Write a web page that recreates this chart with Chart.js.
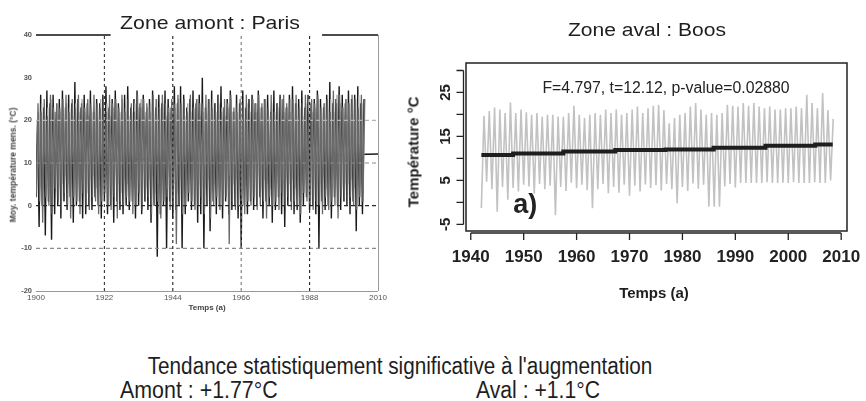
<!DOCTYPE html>
<html><head><meta charset="utf-8">
<script src="https://cdn.jsdelivr.net/npm/chart.js@4.4.1/dist/chart.umd.min.js"></script>
<style>
html,body{margin:0;padding:0;background:#fff;width:866px;height:401px;overflow:hidden;font-family:"Liberation Sans",Arial,sans-serif;}
.t{position:absolute;white-space:nowrap;color:#1e1e1e;line-height:1;}
#c1{position:absolute;left:0;top:0;}
#c2{position:absolute;left:400px;top:0;}
</style></head><body>
<canvas id="c1" width="400" height="320"></canvas>
<canvas id="c2" width="466" height="320"></canvas>
<div class="t" style="left:210px;top:22px;font-size:19px;transform:translate(-50%,-50%) scaleX(1.12);">Zone amont : Paris</div>
<div class="t" style="left:647px;top:30px;font-size:18px;transform:translate(-50%,-50%) scaleX(1.17);">Zone aval : Boos</div>
<div class="t" style="left:13px;top:165px;font-size:8.5px;font-weight:bold;color:#444;transform:translate(-50%,-50%) rotate(-90deg);">Moy. température mens. (°C)</div>
<div class="t" style="left:207px;top:308px;font-size:8px;font-weight:bold;color:#444;transform:translate(-50%,-50%);">Temps (a)</div>
<div class="t" style="left:413px;top:152px;font-size:15px;font-weight:bold;transform:translate(-50%,-50%) rotate(-90deg);">Température °C</div>
<div class="t" style="left:654px;top:292px;font-size:15px;font-weight:bold;transform:translate(-50%,-50%);">Temps (a)</div>
<div class="t" style="left:400px;top:366px;font-size:23px;transform:translate(-50%,-50%) scaleX(0.9);">Tendance statistiquement significative à l'augmentation</div>
<div class="t" style="left:120px;top:390px;font-size:23px;transform-origin:0 50%;transform:translate(0,-50%) scaleX(0.93);">Amont : +1.77°C</div>
<div class="t" style="left:476px;top:390px;font-size:23px;transform-origin:0 50%;transform:translate(0,-50%) scaleX(0.92);">Aval : +1.1°C</div>
<script>
// ---------- Zone amont : Paris (1900-2005), yearly winter troughs / summer peaks ----------
const parisStart = 1900;
const parisDarkPeak = [
 20,26,23,27,24,26,22,25,27,23,
 26,24,29,25,23,26,24,27,22,25,
 24,26,28,23,25,27,24,22,26,28,
 23,25,27,24,26,22,25,27,23,26,
 24,27,25,23,28,24,28,26,23,25,
 27,24,26,30,23,25,27,24,26,28,
 23,25,27,22,26,24,27,23,25,26,
 24,27,23,25,26,22,27,24,26,25,
 23,26,28,24,25,27,23,26,24,25,
 27,25,23,26,29,24,25,28,26,24,
 27,25,26,28,24,25];
const parisDarkTrough = [
 2,-5,0,-7,1,-8,-2,0,-3,1,
 -1,2,-4,0,1,-3,-2,0,-1,2,
 0,-3,1,-2,0,-4,1,-1,-2,0,
 -1,1,-3,0,-2,1,-1,-4,0,-12,
 -2,0,-10,1,-3,-1,0,-10,-2,1,
 -1,0,-4,-2,-10,0,-6,1,-2,0,
 -3,1,-2,-1,0,-3,-10,0,-2,1,
 -1,0,2,-3,1,0,-4,-1,2,-2,
 -5,0,1,-2,-1,-4,0,2,-1,0,
 -2,-10,1,-1,0,-3,2,0,-1,1,
 0,-2,1,-6,0,-2];
const parisGrayPeak = [
 24,22,25,21,26,23,24,22,25,26,
 22,25,23,26,24,22,25,23,26,24,
 23,25,22,26,24,25,23,26,22,25,
 24,22,26,23,25,24,22,26,25,23,
 26,24,22,25,23,26,24,25,22,26,
 23,25,24,22,26,25,23,24,26,22,
 25,24,26,23,22,25,24,26,23,25,
 22,26,24,25,23,26,22,24,25,26,
 24,22,25,26,23,24,26,22,25,24,
 26,23,24,25,22,27,24,26,23,25,
 24,26,25,23,26,25];
const parisGrayTrough = [
 3,1,-4,2,0,-2,4,1,-1,3,
 0,-3,2,1,-2,3,0,-1,2,1,
 -2,1,3,0,-1,2,-3,1,0,2,
 1,-2,0,3,-1,1,2,-2,0,1,
 -3,1,2,-1,0,-9,1,-2,0,3,
 1,-1,0,2,-2,1,-3,0,2,-1,
 0,2,-9,1,-1,0,2,-2,1,0,
 2,-1,0,1,-3,2,0,1,-1,3,
 0,2,-1,1,0,-2,3,1,0,-1,
 1,0,-2,2,-1,1,0,-3,2,1,
 1,2,0,-1,2,1];
const parisLightPeak = [
 22,24,21,23,25,22,24,23,21,24,
 23,21,24,22,25,23,21,24,22,23,
 25,22,24,21,23,24,22,25,23,21,
 22,24,23,25,21,23,24,22,25,23,
 24,21,23,22,24,25,23,21,24,22,
 23,25,21,24,22,23,25,22,24,23,
 21,23,25,22,24,21,23,24,22,25,
 24,22,23,25,21,24,22,23,25,22,
 23,25,22,24,23,21,24,25,22,23,
 25,22,24,23,25,22,26,24,23,25,
 24,23,25,26,24,25];
const parisLightTrough = [
 6,4,7,5,3,6,8,4,5,7,
 5,7,4,6,8,5,3,6,7,4,
 6,5,8,4,6,7,5,3,6,5,
 7,4,6,5,8,4,6,7,3,5,
 5,7,4,6,5,3,7,5,6,8,
 4,6,5,7,4,6,3,5,7,6,
 6,4,7,5,6,8,4,5,6,3,
 5,7,4,6,5,4,7,6,5,6,
 7,5,6,4,7,5,6,3,5,7,
 6,5,7,4,6,5,8,6,4,5,
 5,6,4,7,5,6];
const parisTrendX = [1900, 2010];
const parisTrendY = [10.3, 12.1];
const parisRefH = [20, 10, 0, -10];
const parisRefHColor = ['#b4b4b4', '#8a8a8a', '#2a2a2a', '#8a8a8a'];
const parisRefV = [1922, 1944, 1966, 1988];
const parisRefVColor = ['#333', '#222', '#777', '#222'];
const parisXTicks = [1900, 1922, 1944, 1966, 1988, 2010];
const parisYTicks = [40, 30, 20, 10, 0, -10, -20];

// ---------- Zone aval : Boos (1942-2008) ----------
const boosStart = 1942;
const boosPeak = [
 19.7,20.8,21.6,21.1,20.3,22.7,20.3,21.1,20.5,19.9,
 20.3,19.5,19.9,19.9,19.5,19.5,20.3,22.0,19.9,19.2,
 19.9,20.3,19.9,21.1,20.3,21.1,19.9,20.3,21.1,21.8,
 20.3,21.4,22.0,22.2,21.0,18.0,19.2,19.9,20.3,21.8,
 22.6,21.1,19.9,20.3,19.9,20.3,22.2,22.0,21.8,22.6,
 22.0,22.6,21.8,21.4,21.8,21.1,21.1,21.4,21.4,21.8,
 21.4,24.5,22.6,21.4,24.9,21.0,19.0];
const boosTrough = [
 -1.3,4.7,3.0,-2.1,3.5,0.6,3.3,2.5,4.0,3.6,
 2.0,4.2,3.0,3.8,-2.9,3.5,2.6,4.5,3.2,4.0,
 2.8,-1.3,3.0,4.2,2.1,3.5,2.2,4.0,1.5,3.8,
 2.5,4.1,3.3,3.9,2.7,4.2,3.0,-0.2,3.5,2.6,
 4.3,3.1,4.0,-1.0,-1.0,-1.0,3.6,4.2,3.4,4.4,
 4.4,4.4,4.4,4.4,4.6,4.4,4.4,4.5,4.4,4.6,
 4.4,4.4,4.4,4.6,4.4,4.4,5.0];
const boosTrendX = [1942, 1948, 1957.5, 1967.3, 1976.8, 1985.9, 1995.7, 2005.1, 2008.4];
const boosTrendY = [10.8, 11.1, 11.55, 11.9, 12.05, 12.45, 12.9, 13.15, 13.15];
const boosXTicks = [1940, 1950, 1960, 1970, 1980, 1990, 2000, 2010];
const boosYTickMarks = [-5, 0, 5, 10, 15, 20, 25, 30];
const boosYLabels = [-5, 5, 15, 25];
const boosStatText = 'F=4.797, t=12.12, p-value=0.02880';
const boosPanelLabel = 'a)';

// ---------- helpers ----------
Chart.defaults.font.family = '"Liberation Sans", Arial, sans-serif';
function zigzag(start, troughs, peaks, tOff, pOff) {
  const pts = [];
  for (let i = 0; i < peaks.length; i++) {
    pts.push({x: start + i + tOff, y: troughs[i]});
    pts.push({x: start + i + pOff, y: peaks[i]});
  }
  return pts;
}
function ln(data, color, width, order, extra) {
  return Object.assign({type: 'line', data, borderColor: color, borderWidth: width, order, pointRadius: 0, fill: false, tension: 0}, extra || {});
}
const baseOpts = {responsive: false, animation: false, events: [], plugins: {legend: {display: false}, tooltip: {enabled: false}}};

// ---------- left chart ----------
const parisAxes = {
  id: 'parisAxes',
  afterDatasetsDraw(chart) {
    const {ctx, chartArea: a, scales: {x, y}} = chart;
    ctx.save();
    ctx.strokeStyle = '#111'; ctx.lineWidth = 1.6;
    ctx.beginPath();
    ctx.moveTo(a.left, a.top); ctx.lineTo(x.getPixelForValue(1924), a.top);
    ctx.moveTo(x.getPixelForValue(1992), a.top); ctx.lineTo(a.right, a.top);
    ctx.stroke();
    ctx.strokeStyle = '#999'; ctx.lineWidth = 1;
    ctx.beginPath();
    ctx.moveTo(a.right + 0.5, a.top); ctx.lineTo(a.right + 0.5, a.bottom);
    ctx.moveTo(a.left, a.bottom + 0.5); ctx.lineTo(a.right, a.bottom + 0.5);
    ctx.stroke();
    ctx.fillStyle = '#555'; ctx.font = 'bold 7.5px "Liberation Sans"';
    ctx.textAlign = 'right'; ctx.textBaseline = 'middle';
    parisYTicks.forEach(v => ctx.fillText(String(v), a.left - 4, y.getPixelForValue(v)));
    ctx.textAlign = 'center'; ctx.textBaseline = 'middle';
    ctx.font = '8px "Liberation Sans"';
    parisXTicks.forEach(v => ctx.fillText(String(v), x.getPixelForValue(v), a.bottom + 7));
    ctx.restore();
  }
};
const leftSets = [
  ln(zigzag(parisStart, parisDarkTrough, parisDarkPeak, 0.0, 0.5), '#1a1a1a', 1.4, 7),
  ln(parisTrendX.map((v, i) => ({x: v, y: parisTrendY[i]})), '#1a1a1a', 1.6, 6),
  ln(zigzag(parisStart, parisLightTrough, parisLightPeak, 0.30, 0.80), '#a8a8a8', 1.3, 5),
  ln(zigzag(parisStart, parisGrayTrough, parisGrayPeak, 0.15, 0.65), '#686868', 1.3, 4),
  ...parisRefH.map((v, i) => ln([{x: 1900, y: v}, {x: 2010, y: v}], parisRefHColor[i], 1.1, 2, {borderDash: [4, 3]})),
  ...parisRefV.map((v, i) => ln([{x: v, y: -20}, {x: v, y: 40}], parisRefVColor[i], 1.1, 1, {borderDash: [3, 3]}))
];
new Chart(document.getElementById('c1'), {
  type: 'line',
  data: {datasets: leftSets},
  options: Object.assign({}, baseOpts, {
    layout: {padding: {left: 36, right: 22, top: 35, bottom: 29}},
    scales: {
      x: {type: 'linear', display: false, min: 1900, max: 2010},
      y: {type: 'linear', display: false, min: -20, max: 40}
    }
  }),
  plugins: [parisAxes]
});

// ---------- right chart ----------
const boosAxes = {
  id: 'boosAxes',
  afterDatasetsDraw(chart) {
    const {ctx, chartArea: a, scales: {x, y}} = chart;
    ctx.save();
    ctx.strokeStyle = '#222'; ctx.lineWidth = 1.5;
    ctx.strokeRect(a.left, a.top, a.right - a.left, a.bottom - a.top);
    ctx.lineWidth = 1.3;
    const ax = a.left - 2.5;
    ctx.beginPath();
    ctx.moveTo(ax, y.getPixelForValue(boosYTickMarks[0]));
    ctx.lineTo(ax, y.getPixelForValue(boosYTickMarks[boosYTickMarks.length - 1]));
    boosYTickMarks.forEach(v => { const p = y.getPixelForValue(v); ctx.moveTo(ax, p); ctx.lineTo(ax - 7, p); });
    const ay = a.bottom + 2;
    ctx.moveTo(x.getPixelForValue(boosXTicks[0]), ay);
    ctx.lineTo(x.getPixelForValue(boosXTicks[boosXTicks.length - 1]), ay);
    boosXTicks.forEach(v => { const p = x.getPixelForValue(v); ctx.moveTo(p, ay); ctx.lineTo(p, ay + 7); });
    ctx.stroke();
    ctx.fillStyle = '#222';
    ctx.font = 'bold 17px "Liberation Sans"'; ctx.textAlign = 'center'; ctx.textBaseline = 'middle';
    boosXTicks.forEach(v => ctx.fillText(String(v), x.getPixelForValue(v), 257));
    ctx.font = 'bold 15px "Liberation Sans"';
    boosYLabels.forEach(v => {
      ctx.save(); ctx.translate(a.left - 20, y.getPixelForValue(v)); ctx.rotate(-Math.PI / 2);
      ctx.fillText(String(v), 0, 0); ctx.restore();
    });
    ctx.font = '15.8px "Liberation Sans"';
    ctx.fillText(boosStatText, x.getPixelForValue(1976.9), y.getPixelForValue(25.8));
    ctx.font = 'bold 27px "Liberation Sans"';
    ctx.fillText(boosPanelLabel, x.getPixelForValue(1950.3), y.getPixelForValue(-0.6));
    ctx.restore();
  }
};
new Chart(document.getElementById('c2'), {
  type: 'line',
  data: {datasets: [
    ln(zigzag(boosStart, boosTrough, boosPeak, 0.0, 0.5), '#c2c2c2', 1.6, 2),
    ln(boosTrendX.map((v, i) => ({x: v, y: boosTrendY[i]})), '#1e1e1e', 4, 1, {stepped: true})
  ]},
  options: Object.assign({}, baseOpts, {
    layout: {padding: {left: 66, right: 19, top: 63, bottom: 89}},
    scales: {
      x: {type: 'linear', display: false, min: 1939.1, max: 2011.1},
      y: {type: 'linear', display: false, min: -6.5, max: 31.7}
    }
  }),
  plugins: [boosAxes]
});
</script>
</body></html>
